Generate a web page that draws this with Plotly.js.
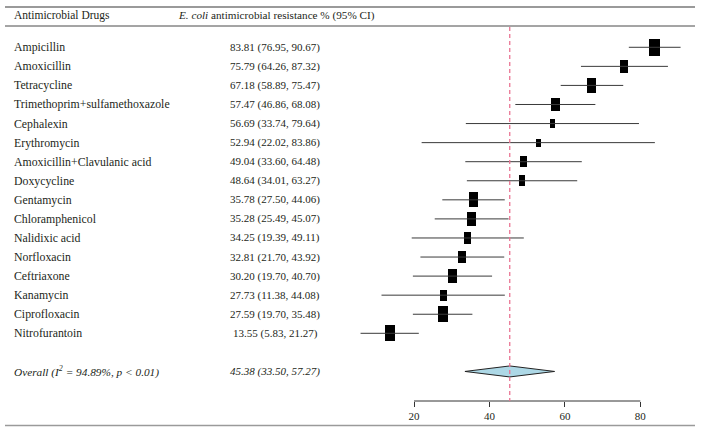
<!DOCTYPE html>
<html>
<head>
<meta charset="utf-8">
<script src="https://cdn.plot.ly/plotly-3.0.1.min.js"></script>
<style>
  html, body { margin: 0; padding: 0; background: #fff; }
  #forest { width: 702px; height: 433px; }
</style>
</head>
<body>
<div id="forest"></div>
<script>
// study rows, top to bottom
var drugs = ['Ampicillin', 'Amoxicillin', 'Tetracycline', 'Trimethoprim+sulfamethoxazole',
  'Cephalexin', 'Erythromycin', 'Amoxicillin+Clavulanic acid', 'Doxycycline', 'Gentamycin',
  'Chloramphenicol', 'Nalidixic acid', 'Norfloxacin', 'Ceftriaxone', 'Kanamycin',
  'Ciprofloxacin', 'Nitrofurantoin'];
var est   = [83.81, 75.79, 67.18, 57.47, 56.69, 52.94, 49.04, 48.64, 35.78, 35.28, 34.25, 32.81, 30.20, 27.73, 27.59, 13.55];
var lower = [76.95, 64.26, 58.89, 46.86, 33.74, 22.02, 33.60, 34.01, 27.50, 25.49, 19.39, 21.70, 19.70, 11.38, 19.70, 5.83];
var upper = [90.67, 87.32, 75.47, 68.08, 79.64, 83.86, 64.48, 63.27, 44.06, 45.07, 49.11, 43.92, 40.70, 44.08, 35.48, 21.27];
// study weights (%)
var weights = [10.8, 6.1, 7.7, 6.6, 3.0, 2.4, 4.3, 4.3, 8.2, 6.6, 4.7, 6.1, 6.6, 4.3, 8.9, 9.5];

var overallLabel = '<i>Overall (I<sup>2</sup> = 94.89%, p &lt; 0.01)</i>';
var overallEst = 45.38, overallLow = 33.50, overallHigh = 57.27;

var xTicks = [20, 40, 60, 80];

function main(){
  var font = 'Liberation Serif, Times New Roman, serif';
  var txtCol = '#231f20';
  var pxPerX = 3.772, pxPerRow = 19.07;

  var rows = drugs.map(function(d, i){ return i; });
  var overallRow = drugs.length + 1;

  // box size from weight
  var bw = [], bh = [], bbase = [];
  for (var i = 0; i < est.length; i++) {
    var side = 10.7 * Math.sqrt(weights[i] / 10.8);
    bw.push(side / pxPerX);
    bh.push(1.6 * side / pxPerRow);
    bbase.push(est[i] - side / pxPerX / 2);
  }

  var ci = {
    type: 'scatter', mode: 'markers',
    x: est, y: rows,
    marker: {size: 1, opacity: 0},
    error_x: {
      type: 'data', symmetric: false,
      array: est.map(function(v, i){ return upper[i] - v; }),
      arrayminus: est.map(function(v, i){ return v - lower[i]; }),
      width: 0, thickness: 1, color: '#3a3a3a'
    },
    hoverinfo: 'skip', showlegend: false
  };

  var boxes = {
    type: 'bar', orientation: 'h',
    y: rows, x: bw, base: bbase, width: bh,
    marker: {color: '#000', line: {width: 0}},
    hoverinfo: 'skip', showlegend: false
  };

  var dh = 5.5 / pxPerRow;
  var diamond = {
    type: 'scatter', mode: 'lines',
    x: [overallLow, overallEst, overallHigh, overallEst, overallLow],
    y: [overallRow, overallRow - dh, overallRow, overallRow + dh, overallRow],
    fill: 'toself', fillcolor: '#add8e6',
    line: {color: '#222', width: 1},
    hoverinfo: 'skip', showlegend: false
  };

  var ann = [];
  function txt(x, y, s, anchor, size){
    ann.push({xref: 'paper', yref: 'y', x: x / 702, y: y, text: s, showarrow: false,
      xanchor: anchor, yanchor: 'middle', font: {family: font, size: size, color: txtCol}});
  }
  var headRow = -1.69;
  txt(12, headRow, 'Antimicrobial Drugs', 'left', 11.5);
  txt(276, headRow, '<i>E. coli</i> antimicrobial resistance % (95% CI)', 'center', 11.2);
  for (var j = 0; j < drugs.length; j++) {
    txt(12, j, drugs[j], 'left', 11.8);
    txt(275, j, est[j].toFixed(2) + ' (' + lower[j].toFixed(2) + ', ' + upper[j].toFixed(2) + ')', 'center', 11);
  }
  txt(12, overallRow, overallLabel, 'left', 11.3);
  txt(275, overallRow, '<i>' + overallEst.toFixed(2) + ' (' + overallLow.toFixed(2) + ', ' + overallHigh.toFixed(2) + ')</i>', 'center', 11);

  var plotH = 401;
  var shapes = [
    {type: 'line', xref: 'paper', yref: 'paper', x0: 5/702, x1: 695/702, y0: 1 - 7/plotH, y1: 1 - 7/plotH,
      line: {color: '#9a9a9a', width: 2}},
    {type: 'line', xref: 'paper', yref: 'paper', x0: 5/702, x1: 695/702, y0: 1 - 26/plotH, y1: 1 - 26/plotH,
      line: {color: '#4a4a4a', width: 1}},
    {type: 'line', xref: 'paper', yref: 'paper', x0: 5/702, x1: 695/702, y0: -24.5/plotH, y1: -24.5/plotH,
      line: {color: '#9a9a9a', width: 1.5}},
    // x axis line only between first and last tick
    {type: 'line', xref: 'x', yref: 'paper', x0: xTicks[0], x1: xTicks[xTicks.length - 1], y0: 0, y1: 0,
      line: {color: '#333', width: 1}},
    // overall estimate reference line
    {type: 'line', xref: 'x', yref: 'y', x0: overallEst, x1: overallEst, y0: -1.06, y1: 18.55,
      line: {color: '#ea7593', width: 1.3, dash: '4px,3px'}}
  ];

  var x0px = 338.57;
  var layout = {
    width: 702, height: 433,
    margin: {l: 0, r: 0, t: 0, b: 32},
    paper_bgcolor: '#fff', plot_bgcolor: '#fff',
    xaxis: {
      range: [-x0px / pxPerX, (702 - x0px) / pxPerX],
      tickvals: xTicks, ticktext: xTicks.map(String),
      ticks: 'outside', ticklen: 5, tickwidth: 1, tickcolor: '#333',
      showline: false, showgrid: false, zeroline: false,
      tickfont: {family: font, size: 11, color: txtCol}
    },
    yaxis: {
      range: [18.55, -2.48],
      showticklabels: false, showgrid: false, zeroline: false, showline: false, ticks: ''
    },
    bargap: 0,
    annotations: ann,
    shapes: shapes
  };

  Plotly.newPlot('forest', [ci, boxes, diamond], layout, {displayModeBar: false, staticPlot: true});
}
main();
</script>
</body>
</html>
